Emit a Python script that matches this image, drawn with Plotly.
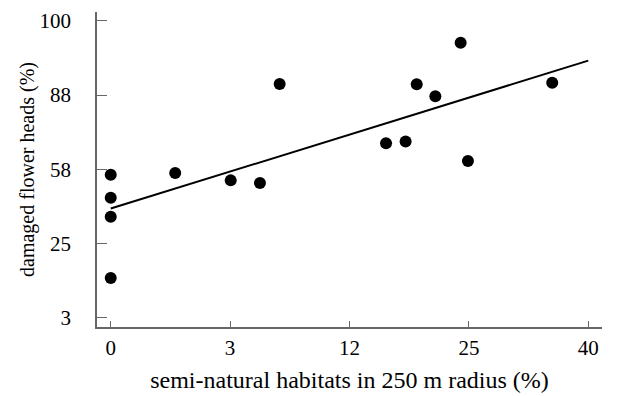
import plotly.graph_objects as go

# Values on arcsine-square-root scale, expressed in degrees
habitat_deg = [0, 0, 0, 0, 5.4, 10.05, 12.5, 14.15, 23.06, 24.7, 25.63, 27.19, 29.31, 29.92, 36.98]
damage_deg = [48.5, 42.3, 37.2, 20.7, 49.0, 47.0, 46.3, 73.0, 57.0, 57.5, 72.9, 69.7, 84.1, 52.2, 73.3]

# fitted line (degrees)
fit_intercept = 39.4
fit_slope = 0.997
fit_x = [0, 40]

x_tickvals = [0, 10, 20, 30, 40]
x_ticktext = ["0", "3", "12", "25", "40"]
y_tickvals = [10, 30, 50, 70, 90]
y_ticktext = ["3", "25", "58", "88", "100"]

fit_y = [fit_intercept + fit_slope * v for v in fit_x]

fig = go.Figure()
fig.add_trace(go.Scatter(x=fit_x, y=fit_y, mode="lines",
                         line=dict(color="black", width=2), hoverinfo="skip"))
fig.add_trace(go.Scatter(x=habitat_deg, y=damage_deg, mode="markers",
                         marker=dict(color="black", size=12)))

font = dict(family="Liberation Serif", size=20, color="black")
tickfont = dict(family="Liberation Serif", size=21, color="black")
fig.update_layout(
    width=617, height=396,
    margin=dict(l=97, r=15, t=12, b=69, autoexpand=False),
    paper_bgcolor="white", plot_bgcolor="white",
    showlegend=False, font=font,
    xaxis=dict(range=[-1.15, 41.15], tickvals=x_tickvals, ticktext=x_ticktext,
               showgrid=False, zeroline=False, showline=True, linecolor="#666",
               linewidth=1.5, ticks="inside", ticklen=6, tickcolor="#666",
               automargin=False, tickfont=tickfont, ticklabelstandoff=1,
               title=dict(text="semi-natural habitats in 250 m radius (%)", standoff=12)),
    yaxis=dict(range=[7.46, 92.4], tickvals=y_tickvals, ticktext=y_ticktext,
               showgrid=False, zeroline=False, showline=True, linecolor="#666",
               linewidth=1.5, ticks="inside", ticklen=10, tickcolor="#666",
               ticklabelstandoff=20, automargin=False, tickfont=tickfont,
               title=dict(text="damaged flower heads (%)", standoff=0,
                          font=dict(family="Liberation Serif", size=20, color="black"))),
)
fig.write_html("out.html", post_script="document.body.style.margin='0';",
               config={"displayModeBar": False})
